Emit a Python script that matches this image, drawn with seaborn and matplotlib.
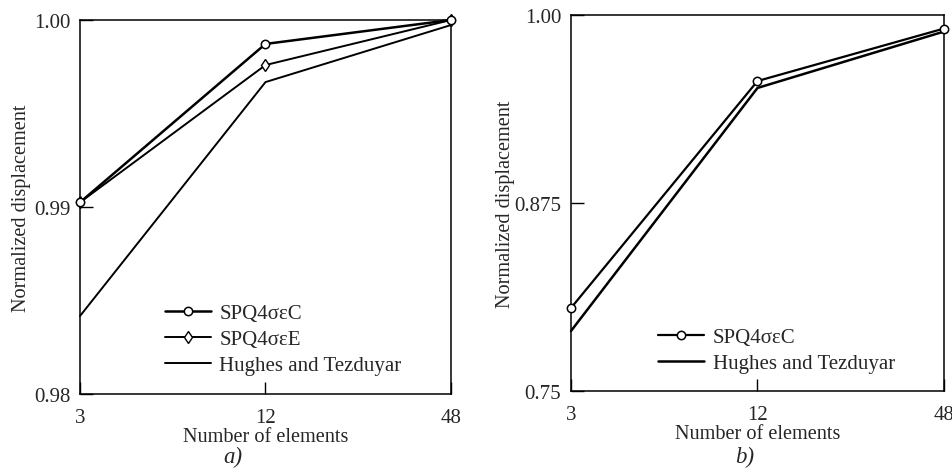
import pandas as pd
import matplotlib.pyplot as plt
import seaborn as sns

# data
elements = [3, 12, 48]

# panel a)
spq_c_a = [0.99025, 0.99872, 1.0000]
spq_e_a = [0.99025, 0.99759, 1.0000]
hughes_a = [0.98417, 0.99668, 0.99973]

# panel b)
spq_c_b = [0.8052, 0.9561, 0.9910]
hughes_b = [0.7899, 0.9515, 0.9890]

sns.set_theme(style="ticks")
plt.rcParams['font.family'] = ['Liberation Serif', 'DejaVu Serif']

fig = plt.figure(figsize=(9.53, 4.77), dpi=100)
axA = fig.add_axes([80/953, 1-395/477, 371/953, 374/477])
axB = fig.add_axes([571/953, 1-392/477, 373/953, 376/477])


def style_axes(ax, yticks, ylabels, ylim, ylab_x):
    ax.set_xscale('log', base=2)
    ax.set_xlim(3, 48)
    ax.set_xticks(elements)
    ax.set_xticklabels([str(e) for e in elements])
    ax.minorticks_off()
    ax.set_ylim(*ylim)
    ax.set_yticks(yticks)
    ax.set_yticklabels(ylabels)
    ax.tick_params(direction='in', length=9, width=1, color='black', labelsize=15, pad=7)
    ax.tick_params(axis='x', pad=10)
    for s in ax.spines.values():
        s.set_visible(True)
        s.set_color('black')
        s.set_linewidth(1.1)
    ax.set_xlabel("Number of elements", fontsize=14.6, labelpad=0)
    ax.set_ylabel("Normalized displacement", fontsize=14.6)
    ax.yaxis.set_label_coords(ylab_x, 0.5)
    ax.grid(False)


# panel a)
dfa = pd.DataFrame({'n': elements * 3,
                    'val': spq_c_a + spq_e_a + hughes_a,
                    'series': ['SPQ4σεC'] * 3 + ['SPQ4σεE'] * 3 + ['Hughes and Tezduyar'] * 3})
sns.lineplot(data=dfa[dfa.series == 'Hughes and Tezduyar'], x='n', y='val', ax=axA,
             color='black', lw=1.4, label='Hughes and Tezduyar', zorder=2, clip_on=False)
sns.lineplot(data=dfa[dfa.series == 'SPQ4σεE'], x='n', y='val', ax=axA,
             color='black', lw=1.4, marker='d', markersize=6.5, markerfacecolor='white',
             markeredgecolor='black', markeredgewidth=1.0, label='SPQ4σεE', zorder=3,
             clip_on=False)
sns.lineplot(data=dfa[dfa.series == 'SPQ4σεC'], x='n', y='val', ax=axA,
             color='black', lw=1.8, marker='o', markersize=6, markerfacecolor='white',
             markeredgecolor='black', markeredgewidth=1.1, label='SPQ4σεC', zorder=4,
             clip_on=False)
style_axes(axA, [0.98, 0.99, 1.00], ['0.98', '0.99', '1.00'], (0.98, 1.00), -0.132)
h, l = axA.get_legend_handles_labels()
order = [2, 1, 0]
axA.legend([h[i] for i in order], [l[i] for i in order], loc='lower left',
           bbox_to_anchor=(0.229, 0.051), borderaxespad=0, borderpad=0,
           frameon=False, fontsize=15, handlelength=2.2,
           handletextpad=0.4, labelspacing=0.3)

# panel b)
dfb = pd.DataFrame({'n': elements * 2,
                    'val': spq_c_b + hughes_b,
                    'series': ['SPQ4σεC'] * 3 + ['Hughes and Tezduyar'] * 3})
sns.lineplot(data=dfb[dfb.series == 'SPQ4σεC'], x='n', y='val', ax=axB,
             color='black', lw=1.6, marker='o', markersize=6, markerfacecolor='white',
             markeredgecolor='black', markeredgewidth=1.1, label='SPQ4σεC', zorder=4,
             clip_on=False)
sns.lineplot(data=dfb[dfb.series == 'Hughes and Tezduyar'], x='n', y='val', ax=axB,
             color='black', lw=1.8, label='Hughes and Tezduyar', zorder=3, clip_on=False)
style_axes(axB, [0.75, 0.875, 1.00], ['0.75', '0.875', '1.00'], (0.75, 1.00), -0.150)
axB.legend(loc='lower left', bbox_to_anchor=(0.233, 0.047), borderaxespad=0, borderpad=0,
           frameon=False, fontsize=15, handlelength=2.2, handletextpad=0.45,
           labelspacing=0.3)

fig.text(233/953, 1-457/477, 'a)', fontsize=16.5, style='italic', ha='center', va='center')
fig.text(745/953, 1-457/477, 'b)', fontsize=16.5, style='italic', ha='center', va='center')

fig.savefig('out.png', dpi=100)
